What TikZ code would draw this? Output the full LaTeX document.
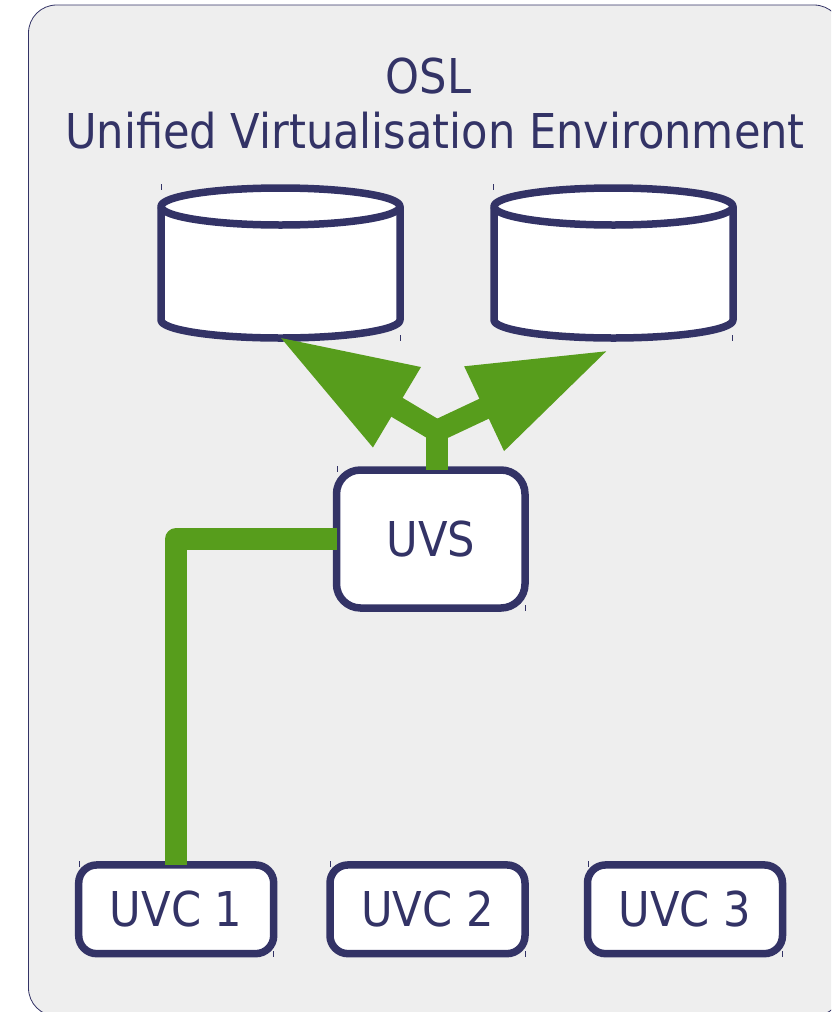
\documentclass[tikz,border=0pt]{standalone}
\usepackage{fontspec}
\setmainfont{DejaVu Sans Condensed}
\usetikzlibrary{positioning,arrows.meta}
\definecolor{navy}{HTML}{333366}
\definecolor{leaf}{HTML}{579D1C}
\definecolor{panel}{HTML}{EEEEEE}
\begin{document}
\begin{tikzpicture}[x=1pt, y=-1pt, font=\fontsize{48}{55}\selectfont, text=navy,
    box/.style = {draw=navy, fill=white, line width=7.5pt, rectangle, outer sep=0pt, inner sep=0pt},
    uvs/.style = {box, rounded corners=24pt, minimum width=188.5pt, minimum height=138pt},
    uvc/.style = {box, rounded corners=18pt, minimum width=195pt, minimum height=88.7pt},
    store/.style = {rectangle, outer sep=0pt, inner sep=0pt, minimum width=239pt, minimum height=150pt},
    can/.style = {draw=navy, fill=white, line width=7.5pt, line join=round},
    link/.style = {draw=leaf, line width=22pt},
    tick/.style = {navy, line width=0.8pt}]
    \clip (0,0) rectangle (831,1012);
    \useasboundingbox (0,0) rectangle (831,1012);
    \node[draw=navy, fill=panel, line width=0.8pt, rounded corners=28pt, minimum width=813.5pt, minimum height=1011pt, outer sep=0pt] (env) at (435.25,510.5) {};
    \node (osl) at (428.5,76) {OSL};
    \node (title) at (435,131) {Unified Virtualisation Environment};
    \node[store] (s1) at (280.5,263) {};
    \node[store] (s2) [right of=s1, node distance=333pt] {};
    \foreach \n in {s1,s2} {
        \draw[can] ([yshift=-18.5pt]\n.north west) arc[start angle=180, end angle=0, x radius=119.5pt, y radius=18.5pt]
            -- ([yshift=18pt]\n.south east) arc[start angle=0, end angle=-180, x radius=119.5pt, y radius=18pt] -- cycle;
        \draw[can, fill=none] ([yshift=-18.5pt]\n.north west) arc[start angle=180, end angle=360, x radius=119.5pt, y radius=18.5pt];
    }
    \node[uvs] (server) at (430.75,539) {UVS};
    \node[uvc] (c1) at (176.2,909.3) {UVC 1};
    \node[uvc] (c2) [right of=c1, node distance=251.3pt] {UVC 2};
    \node[uvc] (c3) [right of=c2, node distance=257.5pt] {UVC 3};
    \coordinate (fork) at (436.7,431);
    \coordinate (tip1) at (278.5,336.5);
    \coordinate (tip2) at (609,350);
    % connectors
    \draw[link] (fork |- server.north) -- (fork);
    \draw[link, -{Triangle[length=138pt, width=87pt]}] (fork) -- (tip1);
    \draw[link, -{Triangle[length=138pt, width=87pt]}] (fork) -- (tip2);
    \draw[link, line join=round] (c1.north) |- (server.west);
    % small marks at the corners
    \foreach \x/\y in {161/184, 400/335, 493.5/184, 732.5/335, 337/466, 525/605, 79/861, 273.5/951, 330/861, 525/951, 588/861, 782/951}
        \draw[tick] (\x,\y) -- ++(0,6);
\end{tikzpicture}
\end{document}
